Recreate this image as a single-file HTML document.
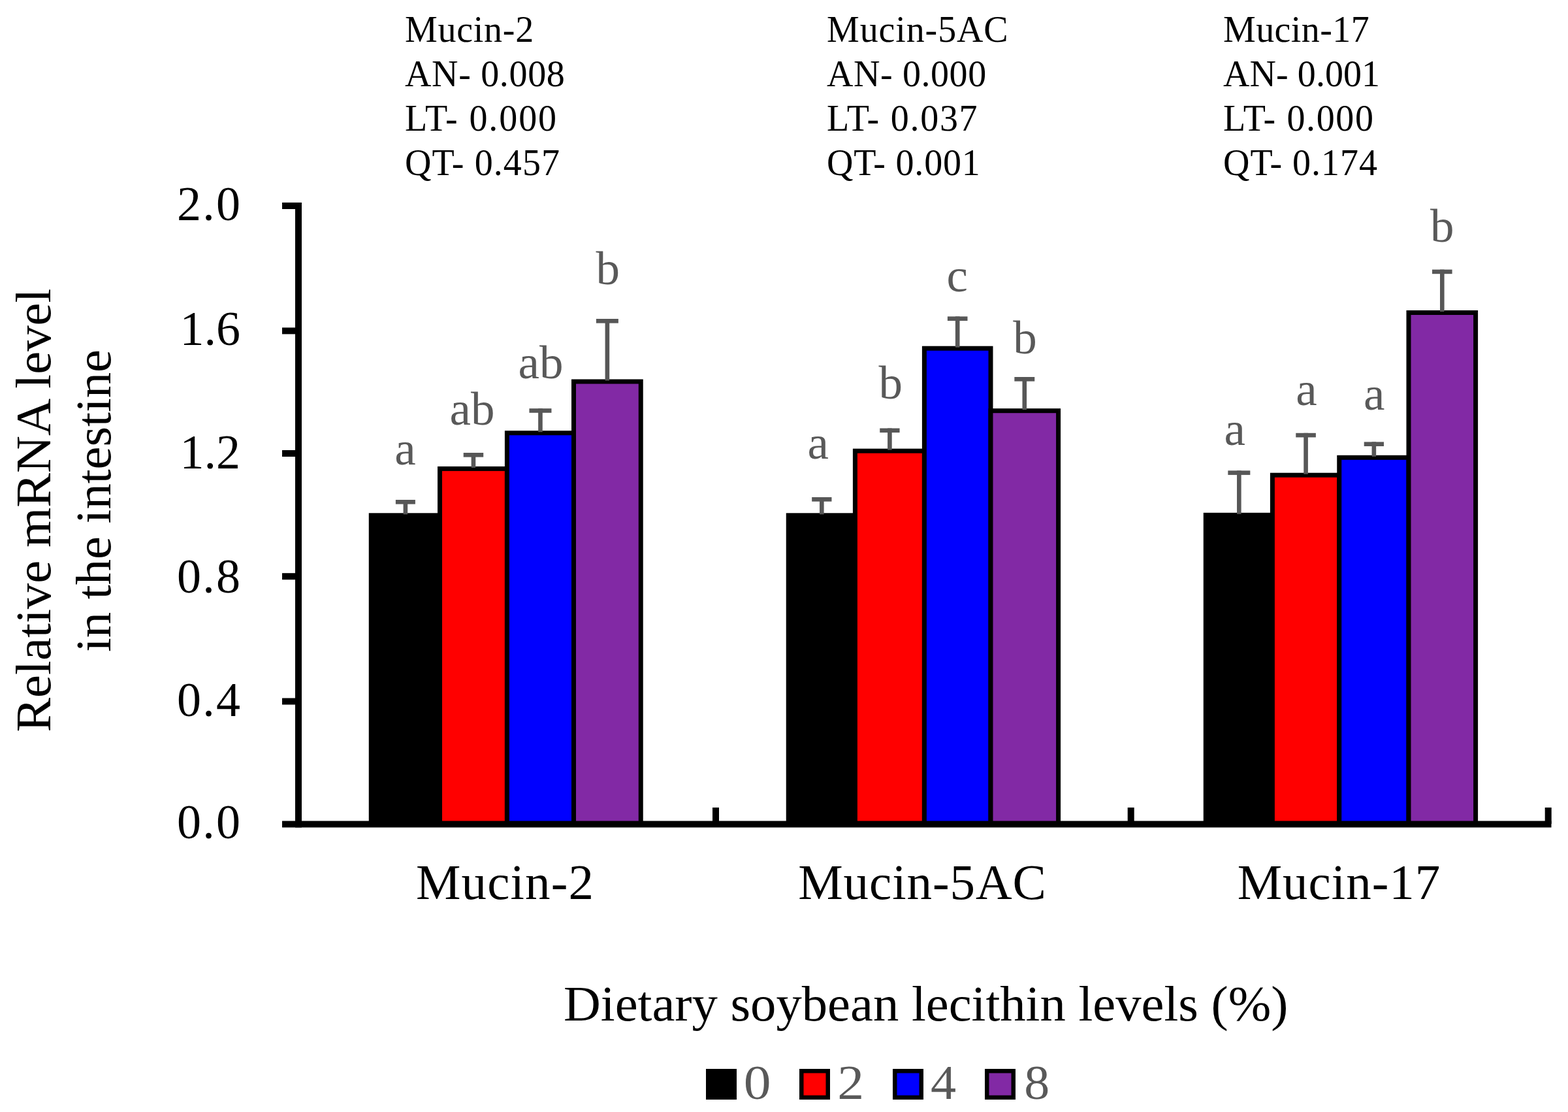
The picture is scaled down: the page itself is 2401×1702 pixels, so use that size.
<!DOCTYPE html><html><head><meta charset="utf-8"><title>Relative mRNA level chart</title>
<style>html,body{margin:0;padding:0;background:#fff;}body{width:2401px;height:1702px;overflow:hidden;}svg{display:block;}text{font-family:"Liberation Serif", "Times New Roman", serif;}</style></head><body>
<svg width="2401" height="1702" viewBox="0 0 2401 1702">
<rect x="0" y="0" width="2401" height="1702" fill="#fff"/>
<text x="620" y="64" font-size="56" fill="#000" textLength="197.2" lengthAdjust="spacing">Mucin-2</text>
<text x="620" y="132" font-size="56" fill="#000" textLength="244.8" lengthAdjust="spacing">AN- 0.008</text>
<text x="620" y="200" font-size="56" fill="#000" textLength="232.1" lengthAdjust="spacing">LT- 0.000</text>
<text x="620" y="268" font-size="56" fill="#000" textLength="237.1" lengthAdjust="spacing">QT- 0.457</text>
<text x="1266" y="64" font-size="56" fill="#000" textLength="277.7" lengthAdjust="spacing">Mucin-5AC</text>
<text x="1266" y="132" font-size="56" fill="#000" textLength="244.2" lengthAdjust="spacing">AN- 0.000</text>
<text x="1266" y="200" font-size="56" fill="#000" textLength="230.6" lengthAdjust="spacing">LT- 0.037</text>
<text x="1266" y="268" font-size="56" fill="#000" textLength="234.8" lengthAdjust="spacing">QT- 0.001</text>
<text x="1873" y="64" font-size="56" fill="#000" textLength="223.7" lengthAdjust="spacing">Mucin-17</text>
<text x="1873" y="132" font-size="56" fill="#000" textLength="240.1" lengthAdjust="spacing">AN- 0.001</text>
<text x="1873" y="200" font-size="56" fill="#000" textLength="230.0" lengthAdjust="spacing">LT- 0.000</text>
<text x="1873" y="268" font-size="56" fill="#000" textLength="235.9" lengthAdjust="spacing">QT- 0.174</text>
<rect x="568.25" y="788.80" width="105.25" height="472.70" fill="#000000" stroke="#000" stroke-width="7"/>
<rect x="673.50" y="717.40" width="102.90" height="544.10" fill="#ff0000" stroke="#000" stroke-width="7"/>
<rect x="776.40" y="662.70" width="102.10" height="598.80" fill="#0000ff" stroke="#000" stroke-width="7"/>
<rect x="878.50" y="584.00" width="102.75" height="677.50" fill="#8229a5" stroke="#000" stroke-width="7"/>
<rect x="1207.25" y="788.80" width="102.15" height="472.70" fill="#000000" stroke="#000" stroke-width="7"/>
<rect x="1309.40" y="690.20" width="106.00" height="571.30" fill="#ff0000" stroke="#000" stroke-width="7"/>
<rect x="1415.40" y="533.20" width="101.60" height="728.30" fill="#0000ff" stroke="#000" stroke-width="7"/>
<rect x="1517.00" y="628.70" width="103.60" height="632.80" fill="#8229a5" stroke="#000" stroke-width="7"/>
<rect x="1846.25" y="788.30" width="102.15" height="473.20" fill="#000000" stroke="#000" stroke-width="7"/>
<rect x="1948.40" y="727.20" width="102.35" height="534.30" fill="#ff0000" stroke="#000" stroke-width="7"/>
<rect x="2050.75" y="700.30" width="106.25" height="561.20" fill="#0000ff" stroke="#000" stroke-width="7"/>
<rect x="2157.00" y="478.50" width="102.60" height="783.00" fill="#8229a5" stroke="#000" stroke-width="7"/>
<rect x="605.88" y="765.00" width="30.0" height="6.6" fill="#575757"/>
<rect x="617.58" y="765.00" width="6.6" height="22.30" fill="#575757"/>
<rect x="709.70" y="693.00" width="30.5" height="6.6" fill="#575757"/>
<rect x="721.65" y="693.00" width="6.6" height="22.90" fill="#575757"/>
<rect x="810.45" y="625.20" width="34.0" height="6.6" fill="#575757"/>
<rect x="824.15" y="625.20" width="6.6" height="36.00" fill="#575757"/>
<rect x="912.88" y="488.00" width="34.0" height="6.6" fill="#575757"/>
<rect x="926.58" y="488.00" width="6.6" height="94.50" fill="#575757"/>
<rect x="1243.17" y="761.00" width="30.3" height="6.6" fill="#575757"/>
<rect x="1255.03" y="761.00" width="6.6" height="26.30" fill="#575757"/>
<rect x="1347.25" y="655.50" width="30.3" height="6.6" fill="#575757"/>
<rect x="1359.10" y="655.50" width="6.6" height="33.20" fill="#575757"/>
<rect x="1450.90" y="484.40" width="30.6" height="6.6" fill="#575757"/>
<rect x="1462.90" y="484.40" width="6.6" height="47.30" fill="#575757"/>
<rect x="1553.35" y="577.00" width="30.9" height="6.6" fill="#575757"/>
<rect x="1565.50" y="577.00" width="6.6" height="50.20" fill="#575757"/>
<rect x="1880.33" y="720.30" width="34.0" height="6.6" fill="#575757"/>
<rect x="1894.03" y="720.30" width="6.6" height="66.50" fill="#575757"/>
<rect x="1984.28" y="662.80" width="30.6" height="6.6" fill="#575757"/>
<rect x="1996.28" y="662.80" width="6.6" height="62.90" fill="#575757"/>
<rect x="2088.72" y="676.40" width="30.3" height="6.6" fill="#575757"/>
<rect x="2100.57" y="676.40" width="6.6" height="22.40" fill="#575757"/>
<rect x="2193.00" y="412.60" width="30.6" height="6.6" fill="#575757"/>
<rect x="2205.00" y="412.60" width="6.6" height="64.40" fill="#575757"/>
<text x="620.38" y="711" font-size="71" fill="#595959" text-anchor="middle" textLength="32.4" lengthAdjust="spacingAndGlyphs">a</text>
<text x="722.95" y="650" font-size="71" fill="#595959" text-anchor="middle" textLength="68.9" lengthAdjust="spacingAndGlyphs">ab</text>
<text x="827.95" y="579" font-size="71" fill="#595959" text-anchor="middle" textLength="68.9" lengthAdjust="spacingAndGlyphs">ab</text>
<text x="930.88" y="435" font-size="71" fill="#595959" text-anchor="middle" textLength="36.5" lengthAdjust="spacingAndGlyphs">b</text>
<text x="1252.83" y="702" font-size="71" fill="#595959" text-anchor="middle" textLength="32.4" lengthAdjust="spacingAndGlyphs">a</text>
<text x="1363.70" y="610" font-size="71" fill="#595959" text-anchor="middle" textLength="36.5" lengthAdjust="spacingAndGlyphs">b</text>
<text x="1465.70" y="446" font-size="71" fill="#595959" text-anchor="middle" textLength="32.4" lengthAdjust="spacingAndGlyphs">c</text>
<text x="1569.55" y="541" font-size="71" fill="#595959" text-anchor="middle" textLength="36.5" lengthAdjust="spacingAndGlyphs">b</text>
<text x="1890.83" y="681" font-size="71" fill="#595959" text-anchor="middle" textLength="32.4" lengthAdjust="spacingAndGlyphs">a</text>
<text x="2000.58" y="620" font-size="71" fill="#595959" text-anchor="middle" textLength="32.4" lengthAdjust="spacingAndGlyphs">a</text>
<text x="2104.12" y="627" font-size="71" fill="#595959" text-anchor="middle" textLength="32.4" lengthAdjust="spacingAndGlyphs">a</text>
<text x="2208.30" y="370" font-size="71" fill="#595959" text-anchor="middle" textLength="36.5" lengthAdjust="spacingAndGlyphs">b</text>
<rect x="452" y="310" width="10" height="956.5" fill="#000"/>
<rect x="432" y="310.00" width="30" height="10" fill="#000"/>
<rect x="432" y="501.40" width="30" height="10" fill="#000"/>
<rect x="432" y="689.00" width="30" height="10" fill="#000"/>
<rect x="432" y="877.20" width="30" height="10" fill="#000"/>
<rect x="432" y="1068.50" width="30" height="10" fill="#000"/>
<rect x="432" y="1256.5" width="1943.5" height="10" fill="#000"/>
<rect x="1091.00" y="1236" width="10" height="25" fill="#000"/>
<rect x="1726.70" y="1236" width="10" height="25" fill="#000"/>
<rect x="2365.70" y="1236" width="10" height="25" fill="#000"/>
<text x="368" y="336.50" font-size="74" fill="#000" text-anchor="end" textLength="97" lengthAdjust="spacing">2.0</text>
<text x="368" y="528.00" font-size="74" fill="#000" text-anchor="end">1.6</text>
<text x="368" y="716.50" font-size="74" fill="#000" text-anchor="end">1.2</text>
<text x="368" y="907.00" font-size="74" fill="#000" text-anchor="end" textLength="97" lengthAdjust="spacing">0.8</text>
<text x="368" y="1095.50" font-size="74" fill="#000" text-anchor="end" textLength="97" lengthAdjust="spacing">0.4</text>
<text x="368" y="1283.00" font-size="74" fill="#000" text-anchor="end" textLength="97" lengthAdjust="spacing">0.0</text>
<text x="773" y="1376" font-size="77" fill="#000" text-anchor="middle" textLength="272.2" lengthAdjust="spacing">Mucin-2</text>
<text x="1412" y="1376" font-size="77" fill="#000" text-anchor="middle" textLength="379.6" lengthAdjust="spacing">Mucin-5AC</text>
<text x="2050" y="1376" font-size="77" fill="#000" text-anchor="middle" textLength="310.7" lengthAdjust="spacing">Mucin-17</text>
<text x="863" y="1562" font-size="76" fill="#000" textLength="1109.5" lengthAdjust="spacingAndGlyphs">Dietary soybean lecithin levels (%)</text>
<text transform="translate(77.3,1120.5) rotate(-90)" x="0" y="0" font-size="77" fill="#000" textLength="679" lengthAdjust="spacingAndGlyphs">Relative mRNA level</text>
<text transform="translate(169.2,998) rotate(-90)" x="0" y="0" font-size="77" fill="#000" textLength="463" lengthAdjust="spacingAndGlyphs">in the intestine</text>
<rect x="1084.25" y="1639.25" width="40.50" height="40.50" fill="#000000" stroke="#000" stroke-width="6.5"/>
<text x="1138.7" y="1681.5" font-size="73" fill="#595959" textLength="41.8" lengthAdjust="spacingAndGlyphs">0</text>
<rect x="1227.25" y="1639.25" width="40.50" height="40.50" fill="#ff0000" stroke="#000" stroke-width="6.5"/>
<text x="1282.3" y="1681.5" font-size="73" fill="#595959" textLength="40.9" lengthAdjust="spacingAndGlyphs">2</text>
<rect x="1370.25" y="1639.25" width="40.50" height="40.50" fill="#0000ff" stroke="#000" stroke-width="6.5"/>
<text x="1424.9" y="1681.5" font-size="73" fill="#595959" textLength="39.1" lengthAdjust="spacingAndGlyphs">4</text>
<rect x="1511.25" y="1639.25" width="40.50" height="40.50" fill="#8229a5" stroke="#000" stroke-width="6.5"/>
<text x="1568.2" y="1681.5" font-size="73" fill="#595959" textLength="39.0" lengthAdjust="spacingAndGlyphs">8</text>
</svg></body></html>
